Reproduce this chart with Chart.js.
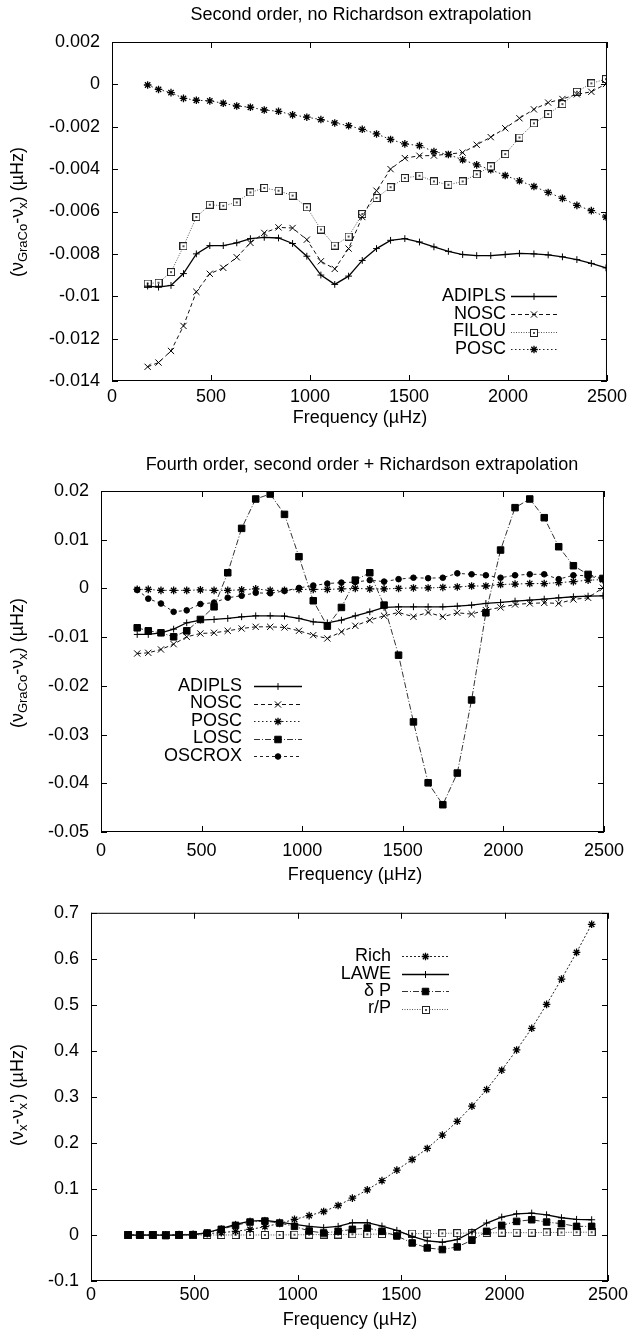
<!DOCTYPE html>
<html>
<head>
<meta charset="utf-8">
<script src="https://cdn.jsdelivr.net/npm/chart.js@4"></script>
<style>
  html, body { margin: 0; padding: 0; background: #fff; }
  body { width: 632px; height: 1337px; position: relative; overflow: hidden; }
  canvas { position: absolute; left: 0; }
</style>
</head>
<body>
<canvas id="c1" width="632" height="445" style="top:0"></canvas>
<canvas id="c2" width="632" height="445" style="top:445px"></canvas>
<canvas id="c3" width="632" height="447" style="top:890px"></canvas>
<script>
// mode frequencies (µHz), shared by the three panels
const freq = [180, 235, 298, 361, 426, 494, 562, 630, 699, 769, 841, 912, 984, 1055, 1125, 1195, 1264,
  1336, 1407, 1479, 1553, 1626, 1699, 1771, 1842, 1913, 1986, 2058, 2131, 2203, 2275, 2348, 2421, 2495];
const freq3 = [180, 235, 298, 361, 426, 494, 562, 630, 699, 769, 841, 912, 984, 1055, 1125, 1195, 1264,
  1336, 1407, 1479, 1553, 1626, 1699, 1771, 1842, 1913, 1986, 2058, 2131, 2203, 2275, 2348, 2421];

// panel 1: second order, no Richardson extrapolation
const p1Adipls = [-0.00952, -0.00957, -0.00949, -0.00893, -0.008, -0.00761, -0.00761, -0.00748, -0.00728, -0.00722,
  -0.00725, -0.00751, -0.00811, -0.009, -0.00944, -0.00905, -0.00831, -0.00775, -0.00736, -0.00728, -0.00744,
  -0.00767, -0.00788, -0.00803, -0.00808, -0.00808, -0.00803, -0.00798, -0.008, -0.00805, -0.00814, -0.00827,
  -0.00845, -0.00866];
const p1Nosc = [-0.01333, -0.01313, -0.01258, -0.0114, -0.00979, -0.00894, -0.00866, -0.00816, -0.00748, -0.00701,
  -0.00675, -0.00678, -0.00733, -0.00835, -0.00871, -0.00775, -0.00626, -0.00502, -0.004, -0.00348, -0.00337,
  -0.00336, -0.00329, -0.00322, -0.00285, -0.00249, -0.00207, -0.0016, -0.00118, -0.00086, -0.00069, -0.00047,
  -0.00035, 0.00002];
const p1Filou = [-0.0094, -0.00936, -0.00886, -0.00764, -0.00626, -0.00568, -0.00573, -0.00557, -0.0051, -0.00489,
  -0.00502, -0.00525, -0.0058, -0.00685, -0.00761, -0.00718, -0.00612, -0.00536, -0.00485, -0.00442, -0.00431,
  -0.00458, -0.00474, -0.00458, -0.00424, -0.00387, -0.00329, -0.00251, -0.00184, -0.0014, -0.00093, -0.00035,
  0.00005, 0.00025];
const p1Posc = [-0.00003, -0.00024, -0.00039, -0.00066, -0.00075, -0.00078, -0.00089, -0.00102, -0.00108, -0.00121,
  -0.00127, -0.00144, -0.00155, -0.00166, -0.00182, -0.00195, -0.00212, -0.00234, -0.0026, -0.00281, -0.00289,
  -0.00317, -0.00331, -0.00356, -0.0038, -0.00403, -0.0043, -0.00455, -0.00482, -0.0051, -0.00538, -0.00571,
  -0.00596, -0.00626];

// panel 2: fourth order, second order + Richardson extrapolation
const p2Adipls = [-0.00945, -0.00945, -0.00911, -0.00836, -0.00705, -0.00651, -0.00637, -0.00616, -0.00582, -0.00562,
  -0.00562, -0.00568, -0.00616, -0.00685, -0.00705, -0.00651, -0.00562, -0.0048, -0.0039, -0.00377, -0.00377,
  -0.00377, -0.00377, -0.00363, -0.00342, -0.00308, -0.00288, -0.0026, -0.0024, -0.00219, -0.00192, -0.00171,
  -0.00158, -0.00151];
const p2Nosc = [-0.01336, -0.01322, -0.01253, -0.01144, -0.00993, -0.00925, -0.00911, -0.0087, -0.00822, -0.00788,
  -0.00788, -0.00801, -0.0087, -0.00959, -0.01027, -0.0089, -0.00767, -0.00651, -0.00562, -0.00493, -0.00582,
  -0.00493, -0.00582, -0.005, -0.00527, -0.00445, -0.0039, -0.00329, -0.00308, -0.00295, -0.00308, -0.00226,
  -0.00192, 0.00014];
const p2Posc = [-0.0002, -0.0002, -0.0004, -0.0004, -0.0004, -0.0003, -0.0004, -0.0004, -0.0003, -0.0001, -0.0004,
  -0.0004, -0.0002, -0.0002, -0.0002, -0.0001, 0.0, -0.0001, -0.0001, 0.0, 0.0001, 0.0001, 0.0002, 0.0003, 0.0005,
  0.0005, 0.0008, 0.0009, 0.001, 0.001, 0.0012, 0.0014, 0.0017, 0.0018];
const p2Losc = [-0.00808, -0.0087, -0.00911, -0.00993, -0.0087, -0.00637, -0.00377, 0.00322, 0.01233, 0.01836,
  0.01938, 0.0152, 0.00651, -0.00253, -0.00774, -0.0039, 0.00171, 0.00322, -0.00342, -0.0137, -0.0274, -0.0399,
  -0.0444, -0.0379, -0.0229, -0.005, 0.00788, 0.01658, 0.01836, 0.01452, 0.00856, 0.00466, 0.00288, 0.00205];
const p2Oscrox = [-0.0003, -0.0021, -0.0031, -0.0048, -0.0045, -0.0032, -0.0029, -0.0019, -0.0015, -0.0009, -0.001,
  -0.0005, 0.0001, 0.0006, 0.001, 0.0012, 0.0013, 0.0017, 0.0014, 0.0019, 0.0022, 0.0021, 0.0022, 0.0031, 0.0029,
  0.0027, 0.0022, 0.0027, 0.0029, 0.0029, 0.0019, 0.0027, 0.0026, 0.0019];

// panel 3: effect of the individual corrections
const p3Rich = [0, 0, 0, 0.0005, 0.001, 0.0015, 0.003, 0.005, 0.008, 0.012, 0.018, 0.025, 0.034, 0.042, 0.051, 0.064,
  0.08, 0.098, 0.118, 0.141, 0.164, 0.188, 0.217, 0.247, 0.28, 0.316, 0.358, 0.402, 0.449, 0.501, 0.556, 0.614, 0.675];
const p3Lawe = [0, -0.0007, 0, -0.0007, 0, 0.0007, 0.005, 0.0137, 0.023, 0.0302, 0.0317, 0.0281, 0.023, 0.0187,
  0.0158, 0.0187, 0.0266, 0.0266, 0.0194, 0.01, -0.0029, -0.013, -0.0158, -0.01, 0.0065, 0.0259, 0.0388, 0.046,
  0.0475, 0.0439, 0.0374, 0.0338, 0.0331];
const p3DeltaP = [0, 0, 0, -0.0014, 0, 0.0007, 0.0043, 0.0122, 0.0209, 0.0281, 0.0302, 0.0259, 0.0187, 0.0086,
  0.0043, 0.0079, 0.0122, 0.0151, 0.0079, -0.0022, -0.0173, -0.0281, -0.0317, -0.0259, -0.0115, 0.0079, 0.0209,
  0.0295, 0.0331, 0.0281, 0.0245, 0.0187, 0.0187];
const p3rP = [0, 0, 0, 0, 0, 0, 0, 0, 0, 0, 0, 0, 0.0005, 0.0005, 0.001, 0.001, 0.0015, 0.0015, 0.002, 0.0025, 0.003,
  0.003, 0.0035, 0.004, 0.004, 0.0045, 0.005, 0.005, 0.005, 0.0055, 0.0055, 0.006, 0.006];

// tick labels
const xTicks = [0, 500, 1000, 1500, 2000, 2500];
const p1YTicks = [-0.014, -0.012, -0.01, -0.008, -0.006, -0.004, -0.002, 0, 0.002];
const p2YTicks = [-0.05, -0.04, -0.03, -0.02, -0.01, 0, 0.01, 0.02];
const p3YTicks = [-0.1, 0, 0.1, 0.2, 0.3, 0.4, 0.5, 0.6, 0.7];

const FONT = '"Liberation Sans", Arial, Helvetica, sans-serif';
const FS = 18;

// open square with a centre dot (gnuplot point type 4 look)
function squareDot() {
  const c = document.createElement('canvas');
  c.width = 8; c.height = 8;
  const g = c.getContext('2d');
  g.fillStyle = '#fff'; g.fillRect(0, 0, 8, 8);
  g.strokeStyle = '#222'; g.lineWidth = 1; g.strokeRect(0.5, 0.5, 7, 7);
  g.fillStyle = '#555'; g.fillRect(3, 3, 2, 2);
  return c;
}
const sq = squareDot();

const st = {
  solid:  { dash: [], point: 'cross', radius: 3.4, width: 1.3, color: '#000' },
  dashed: { dash: [4, 3], point: 'crossRot', radius: 4.4, width: 1, color: '#111' },
  fine:   { dash: [1, 1.5], point: sq, radius: 4, width: 1, color: '#555' },
  dots:   { dash: [1.5, 2.5], point: 'star', radius: 3.8, width: 1, color: '#222', pbw: 1.3 },
  dashdot:{ dash: [6, 2, 1, 2], point: 'rect', radius: 4.6, width: 1, color: '#333', fill: '#000' },
  circ:   { dash: [3, 3], point: 'circle', radius: 2.8, width: 1, color: '#222', fill: '#000' }
};

function drawMarker(ctx, s, x, y) {
  ctx.setLineDash([]);
  if (typeof s.point !== 'string') {
    ctx.drawImage(s.point, Math.round(x - s.point.width / 2), Math.round(y - s.point.height / 2));
    return;
  }
  const r = s.radius, d = r * Math.SQRT1_2;
  ctx.lineWidth = s.pbw || 1;
  ctx.strokeStyle = '#000';
  ctx.fillStyle = s.fill || '#000';
  ctx.beginPath();
  if (s.point === 'cross' || s.point === 'star') {
    ctx.moveTo(x - r, y); ctx.lineTo(x + r, y); ctx.moveTo(x, y - r); ctx.lineTo(x, y + r);
  }
  if (s.point === 'crossRot' || s.point === 'star') {
    ctx.moveTo(x - d, y - d); ctx.lineTo(x + d, y + d); ctx.moveTo(x + d, y - d); ctx.lineTo(x - d, y + d);
  }
  if (s.point === 'rect') { ctx.rect(x - d, y - d, 2 * d, 2 * d); ctx.fill(); }
  if (s.point === 'circle') { ctx.arc(x, y, r, 0, Math.PI * 2); ctx.fill(); }
  ctx.stroke();
}

// text made of parts, each [text, 'sub'|undefined]
function drawParts(ctx, parts, cx, cy, rotate) {
  ctx.save();
  ctx.translate(cx, cy);
  if (rotate) ctx.rotate(-Math.PI / 2);
  ctx.textBaseline = 'middle';
  ctx.textAlign = 'left';
  ctx.fillStyle = '#000';
  const fonts = parts.map(p => (p[1] ? Math.round(FS * 0.72) : FS) + 'px ' + FONT);
  const ws = parts.map((p, i) => { ctx.font = fonts[i]; return ctx.measureText(p[0]).width; });
  let x = -ws.reduce((a, b) => a + b, 0) / 2;
  parts.forEach((p, i) => {
    ctx.font = fonts[i];
    ctx.fillText(p[0], x, p[1] === 'sub' ? FS * 0.32 : 0);
    x += ws[i];
  });
  ctx.restore();
}

function drawDeco(chart, cfg) {
  const ctx = chart.ctx, a = chart.chartArea;
  const sx = chart.scales.x, sy = chart.scales.y;
  ctx.save();
  ctx.setLineDash([]);
  ctx.strokeStyle = '#000';
  ctx.lineWidth = 1;
  ctx.strokeRect(a.left + 0.5, a.top + 0.5, a.right - a.left - 1, a.bottom - a.top - 1);
  ctx.beginPath();
  xTicks.forEach(v => {
    const px = Math.round(sx.getPixelForValue(v)) + 0.5;
    ctx.moveTo(px, a.bottom); ctx.lineTo(px, a.bottom - 6);
    ctx.moveTo(px, a.top); ctx.lineTo(px, a.top + 6);
  });
  cfg.yTicks.forEach(v => {
    const py = Math.round(sy.getPixelForValue(v)) + 0.5;
    ctx.moveTo(a.left, py); ctx.lineTo(a.left + 6, py);
    ctx.moveTo(a.right, py); ctx.lineTo(a.right - 6, py);
  });
  ctx.stroke();

  // titles
  if (cfg.title) drawParts(ctx, [[cfg.title.text]], cfg.title.x, cfg.title.y, false);
  drawParts(ctx, [['Frequency (µHz)']], cfg.xTitle.x, cfg.xTitle.y, false);
  drawParts(ctx, cfg.yTitle.parts, cfg.yTitle.x, cfg.yTitle.y, true);

  // legend: right aligned text, then line sample with its marker
  const L = cfg.legend;
  cfg.series.forEach((s, i) => {
    const y = L.rows[i];
    ctx.font = FS + 'px ' + FONT;
    ctx.fillStyle = '#000';
    ctx.textAlign = 'right';
    ctx.textBaseline = 'middle';
    ctx.fillText(s.label, L.textRight, y);
    ctx.setLineDash(s.style.dash);
    ctx.strokeStyle = s.style.color;
    ctx.lineWidth = s.style.width;
    ctx.beginPath();
    ctx.moveTo(L.x1, Math.round(y) + 0.5);
    ctx.lineTo(L.x2, Math.round(y) + 0.5);
    ctx.stroke();
    drawMarker(ctx, s.style, (L.x1 + L.x2) / 2, Math.round(y) + 0.5);
  });
  ctx.restore();
}

function makeChart(id, cfg) {
  const H = cfg.height, A = cfg.area;
  return new Chart(document.getElementById(id), {
    type: 'line',
    data: {
      datasets: cfg.series.map(s => ({
        label: s.label,
        data: cfg.x.map((f, i) => ({ x: f, y: s.y[i] })),
        borderColor: s.style.color,
        borderWidth: s.style.width,
        borderDash: s.style.dash,
        pointStyle: s.style.point,
        pointRadius: s.style.radius,
        pointBorderWidth: s.style.pbw || 1,
        pointBorderColor: '#000',
        pointBackgroundColor: s.style.fill || '#000',
        fill: false,
        tension: 0
      }))
    },
    options: {
      responsive: false,
      animation: false,
      devicePixelRatio: 1,
      events: [],
      layout: { padding: { left: 0, top: A.top, right: 632 - A.right, bottom: 0 } },
      plugins: { legend: { display: false }, tooltip: { enabled: false } },
      scales: {
        x: {
          type: 'linear', min: 0, max: 2500,
          grid: { display: false, drawTicks: false }, border: { display: false },
          ticks: { padding: cfg.xPad, color: '#000', maxRotation: 0, font: { family: FONT, size: FS },
                   callback: v => String(v) },
          afterBuildTicks: s => { s.ticks = xTicks.map(v => ({ value: v })); },
          afterFit: s => { s.height = H - A.bottom; }
        },
        y: {
          type: 'linear', min: cfg.yTicks[0], max: cfg.yTicks[cfg.yTicks.length - 1],
          grid: { display: false, drawTicks: false }, border: { display: false },
          ticks: { padding: 12, color: '#000', font: { family: FONT, size: FS },
                   callback: v => String(v) },
          afterBuildTicks: s => { s.ticks = cfg.yTicks.map(v => ({ value: v })); },
          afterFit: s => { s.width = A.left; }
        }
      }
    },
    plugins: [{ id: 'deco', afterDraw: chart => drawDeco(chart, cfg) }]
  });
}

const yTitleGraCo = [['(ν'], ['GraCo', 'sub'], ['-ν'], ['x', 'sub'], [') (µHz)']];

makeChart('c1', {
  height: 445, area: { left: 112, top: 42, right: 608, bottom: 381 }, xPad: 5,
  x: freq, yTicks: p1YTicks,
  title: { text: 'Second order, no Richardson extrapolation', x: 361, y: 15.5 },
  xTitle: { x: 360, y: 418 },
  yTitle: { parts: yTitleGraCo, x: 18, y: 212 },
  legend: { textRight: 506, x1: 511, x2: 557, rows: [296, 314, 331.5, 349] },
  series: [
    { label: 'ADIPLS', y: p1Adipls, style: st.solid },
    { label: 'NOSC', y: p1Nosc, style: st.dashed },
    { label: 'FILOU', y: p1Filou, style: st.fine },
    { label: 'POSC', y: p1Posc, style: st.dots }
  ]
});

makeChart('c2', {
  height: 445, area: { left: 101, top: 46, right: 608, bottom: 387 }, xPad: 8,
  x: freq, yTicks: p2YTicks,
  title: { text: 'Fourth order, second order + Richardson extrapolation', x: 362, y: 20 },
  xTitle: { x: 355, y: 430 },
  yTitle: { parts: yTitleGraCo, x: 18, y: 218 },
  legend: { textRight: 242, x1: 254, x2: 302, rows: [241, 258.5, 276, 293.5, 311] },
  series: [
    { label: 'ADIPLS', y: p2Adipls, style: st.solid },
    { label: 'NOSC', y: p2Nosc, style: st.dashed },
    { label: 'POSC', y: p2Posc, style: st.dots },
    { label: 'LOSC', y: p2Losc, style: st.dashdot },
    { label: 'OSCROX', y: p2Oscrox, style: st.circ }
  ]
});

makeChart('c3', {
  height: 447, area: { left: 91, top: 21, right: 608, bottom: 391 }, xPad: 3,
  x: freq3, yTicks: p3YTicks,
  xTitle: { x: 350, y: 430.5 },
  yTitle: { parts: [['(ν'], ['x', 'sub'], ['-ν'], ['x', 'sub'], ['\''], [') (µHz)']], x: 18, y: 205 },
  legend: { textRight: 391, x1: 402, x2: 449, rows: [66, 84, 101, 118.5] },
  series: [
    { label: 'Rich', y: p3Rich, style: Object.assign({}, st.dots, { dash: [2, 2] }) },
    { label: 'LAWE', y: p3Lawe, style: Object.assign({}, st.solid, { radius: 3.5 }) },
    { label: 'δ P', y: p3DeltaP, style: st.dashdot },
    { label: 'r/P', y: p3rP, style: st.fine }
  ]
});
</script>
</body>
</html>
